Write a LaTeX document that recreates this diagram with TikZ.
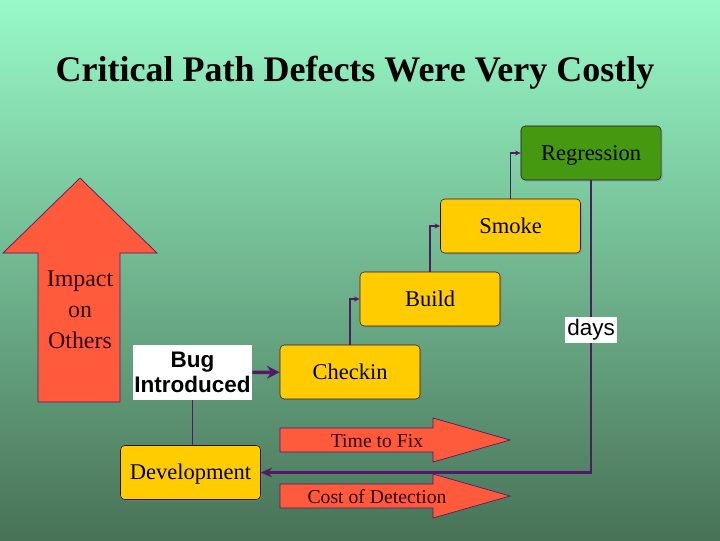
\documentclass[tikz,border=0pt]{standalone}
\usepackage{fontspec}
\setmainfont{Liberation Serif}
\setsansfont{Liberation Sans}
\usetikzlibrary{arrows.meta,shadows}

\definecolor{bgtop}{RGB}{152,250,200}
\definecolor{bgbottom}{RGB}{72,114,86}
\definecolor{stagefill}{RGB}{255,204,0}
\definecolor{regrfill}{RGB}{68,153,17}
\definecolor{fixred}{RGB}{255,90,60}
\definecolor{wire}{RGB}{84,24,104}
\definecolor{inkred}{RGB}{45,0,0}

\begin{document}
\begin{tikzpicture}[x=0.025cm,y=-0.025cm,
  stage/.style={draw=wire!60!black,fill=stagefill,rounded corners=3pt,
    minimum width=3.5cm,minimum height=1.35cm,font=\fontsize{16}{19}\selectfont,
    text height=10.6pt,text depth=0pt,
    drop shadow={opacity=.35,shadow xshift=1.2pt,shadow yshift=-1.2pt}},
  tag/.style={fill=white,font=\sffamily\fontsize{16}{18}\selectfont,inner sep=1.5pt},
  wire/.style={draw=wire,line width=1pt},
  bigred/.style={draw=wire,fill=fixred,line width=.5pt}]
        % background and title
        \shade[top color=bgtop,bottom color=bgbottom] (0,0) rectangle (720,540);
        \node (title) at (355,73) {\fontsize{25.6}{30}\selectfont\bfseries Critical Path Defects Were Very Costly};
        % impact arrow
        \draw[bigred] (38,402) -- (38,253) -- (3,253) -- (80,178) -- (157,253) -- (120,253) -- (120,402) -- cycle;
        \node[align=center,text=inkred,font=\fontsize{17}{22}\selectfont] (impact) at (80,310) {Impact\\on\\Others};
        % red arrows at the bottom
        \foreach \y/\txt/\nm in {440/Time to Fix/fix, 496/Cost of Detection/cost}{
          \draw[bigred] (280,\y-12) -- (433,\y-12) -- (433,\y-22) -- (510,\y) -- (433,\y+22) -- (433,\y+12) -- (280,\y+12) -- cycle;
          \node[text=inkred,font=\fontsize{14}{16}\selectfont,text height=9.3pt,text depth=0pt] (\nm) at (377,\y+1) {\txt};};
        % stages
        \node[stage] (dev) at (190.5,472.5) {Development};
        \node[stage] (checkin) at (350,372) {Checkin};
        \node[stage] (build) at (430,299) {Build};
        \node[stage] (smoke) at (510.5,226) {Smoke};
        \node[stage,fill=regrfill] (regr) at (591,153) {Regression};
        \node[fill=white,font=\sffamily\bfseries\fontsize{16}{18}\selectfont,align=center,
          minimum width=2.975cm,minimum height=1.375cm,inner sep=0pt] (bug) at (192.5,372.5) {Bug\\Introduced};
        % connectors
        \draw[wire,line width=2.5pt,-{Stealth[length=9pt,width=9pt]}] (bug) -- (checkin);
        \draw[wire] (bug.south) -- (bug.south |- dev.north);
        \draw[wire,-{Stealth[length=4pt,width=3.5pt]}] (checkin.north) |- (build.west);
        \draw[wire,-{Stealth[length=4pt,width=3.5pt]}] (build.north) |- (smoke.west);
        \draw[wire,-{Stealth[length=4pt,width=3.5pt]}] (smoke.north) |- (regr.west);
        \draw[wire,line width=1.5pt,-{Stealth[length=8pt,width=7pt]}] (regr.south) |- (dev.east)
          node[tag,pos=.256] (days) {days};
\end{tikzpicture}
\end{document}
